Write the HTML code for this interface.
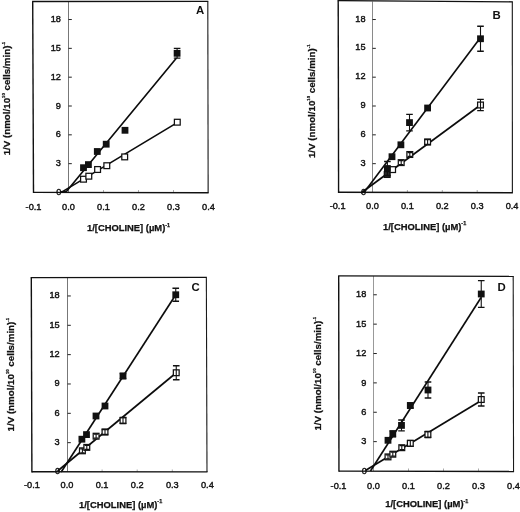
<!DOCTYPE html>
<html><head><meta charset="utf-8"><title>Lineweaver-Burk plots</title>
<style>html,body{margin:0;padding:0;background:#fff}svg{display:block;filter:blur(0.35px)}text{font-family:"Liberation Sans", sans-serif;fill:#111;stroke:#111;stroke-width:0.25px}.t{font-size:9.2px;stroke-width:0.4px}.b{font-size:9.4px;font-weight:bold}.s{font-size:5.4px;font-weight:bold}.b2{font-size:9.75px;font-weight:bold}.s2{font-size:4.2px;font-weight:bold}.p{font-size:11.4px;font-weight:bold;stroke:none}</style></head><body>
<svg width="520" height="512" viewBox="0 0 520 512">
<rect width="520" height="512" fill="#fff"/>
<g>
<line x1="68.5" y1="1.5" x2="68.5" y2="192.5" stroke="#777" stroke-width="1"/>
<line x1="68.5" y1="163.67" x2="71.8" y2="163.67" stroke="#222" stroke-width="1"/>
<text class="t" x="60.9" y="166.27" text-anchor="end">3</text>
<line x1="68.5" y1="134.84" x2="71.8" y2="134.84" stroke="#222" stroke-width="1"/>
<text class="t" x="60.9" y="137.44" text-anchor="end">6</text>
<line x1="68.5" y1="106.01" x2="71.8" y2="106.01" stroke="#222" stroke-width="1"/>
<text class="t" x="60.9" y="108.61" text-anchor="end">9</text>
<line x1="68.5" y1="77.18" x2="71.8" y2="77.18" stroke="#222" stroke-width="1"/>
<text class="t" x="60.9" y="79.78" text-anchor="end">12</text>
<line x1="68.5" y1="48.35" x2="71.8" y2="48.35" stroke="#222" stroke-width="1"/>
<text class="t" x="60.9" y="50.95" text-anchor="end">15</text>
<line x1="68.5" y1="19.52" x2="71.8" y2="19.52" stroke="#222" stroke-width="1"/>
<text class="t" x="60.9" y="22.12" text-anchor="end">18</text>
<text class="t" x="33.5" y="210" text-anchor="middle">-0.1</text>
<text class="t" x="68.5" y="210" text-anchor="middle">0.0</text>
<line x1="103.5" y1="192.5" x2="103.5" y2="190" stroke="#888" stroke-width="0.7"/>
<text class="t" x="103.5" y="210" text-anchor="middle">0.1</text>
<line x1="138.5" y1="192.5" x2="138.5" y2="190" stroke="#888" stroke-width="0.7"/>
<text class="t" x="138.5" y="210" text-anchor="middle">0.2</text>
<line x1="173.5" y1="192.5" x2="173.5" y2="190" stroke="#888" stroke-width="0.7"/>
<text class="t" x="173.5" y="210" text-anchor="middle">0.3</text>
<text class="t" x="208.5" y="210" text-anchor="middle">0.4</text>
<line x1="32.1" y1="1.5" x2="208.3" y2="1.4" stroke="#111" stroke-width="1.3"/>
<line x1="207.8" y1="1.4" x2="208.15" y2="192.7" stroke="#1a1a1a" stroke-width="1.1"/>
<line x1="32.7" y1="1.5" x2="33.5" y2="193.05" stroke="#111" stroke-width="1.4"/>
<line x1="33.5" y1="192.4" x2="208.65" y2="192.7" stroke="#111" stroke-width="1.4"/>
<text class="t" x="61.4" y="195.1" text-anchor="end">0</text>
<polyline points="60.5,192.3 62.5,191.6 176.8,122.9" fill="none" stroke="#0c0c0c" stroke-width="1.65" stroke-linejoin="round"/>
<polyline points="60.5,192.2 66.6,191.2 176.5,57.9" fill="none" stroke="#0c0c0c" stroke-width="1.65" stroke-linejoin="round"/>
<rect x="80.6" y="176.3" width="5.8" height="5.8" fill="#fff" stroke="#111" stroke-width="1.25"/>
<rect x="85.9" y="173.3" width="5.8" height="5.8" fill="#fff" stroke="#111" stroke-width="1.25"/>
<rect x="94.7" y="166.6" width="5.8" height="5.8" fill="#fff" stroke="#111" stroke-width="1.25"/>
<rect x="103.9" y="162.8" width="5.8" height="5.8" fill="#fff" stroke="#111" stroke-width="1.25"/>
<rect x="121.8" y="154" width="5.8" height="5.8" fill="#fff" stroke="#111" stroke-width="1.25"/>
<rect x="174.4" y="119.3" width="5.8" height="5.8" fill="#fff" stroke="#111" stroke-width="1.25"/>
<rect x="80.1" y="164.3" width="6.8" height="6.8" fill="#111"/>
<rect x="85" y="161.2" width="6.8" height="6.8" fill="#111"/>
<rect x="93.9" y="148.1" width="6.8" height="6.8" fill="#111"/>
<rect x="102.8" y="140.8" width="6.8" height="6.8" fill="#111"/>
<rect x="121.6" y="126.9" width="6.8" height="6.8" fill="#111"/>
<path d="M177.1 48.4V58.2" stroke="#111" stroke-width="1.1" fill="none"/><path d="M173.8 48.4H180.4M173.8 58.2H180.4" stroke="#111" stroke-width="1.3" fill="none"/>
<rect x="173.7" y="49.9" width="6.8" height="6.8" fill="#111"/>
<text class="p" x="200" y="13.5" text-anchor="middle">A</text>
<text class="b" x="128.5" y="231" text-anchor="middle">1/[CHOLINE] (µM)<tspan class="s" dy="-4.5">-1</tspan></text>
<text class="b2" transform="translate(10.1 98.6) rotate(-90)" text-anchor="middle">1/V (nmol/10<tspan class="s2" dy="-5">10</tspan><tspan dy="5"> cells/min)</tspan><tspan class="s2" dy="-5">-1</tspan></text>
</g>
<g>
<line x1="372.5" y1="1.5" x2="372.5" y2="192.5" stroke="#8a8a8a" stroke-width="1"/>
<line x1="372.5" y1="163.67" x2="375.8" y2="163.67" stroke="#222" stroke-width="1"/>
<text class="t" x="365.6" y="165.67" text-anchor="end">3</text>
<line x1="372.5" y1="134.84" x2="375.8" y2="134.84" stroke="#222" stroke-width="1"/>
<text class="t" x="365.6" y="136.84" text-anchor="end">6</text>
<line x1="372.5" y1="106.01" x2="375.8" y2="106.01" stroke="#222" stroke-width="1"/>
<text class="t" x="365.6" y="108.01" text-anchor="end">9</text>
<line x1="372.5" y1="77.18" x2="375.8" y2="77.18" stroke="#222" stroke-width="1"/>
<text class="t" x="365.6" y="79.18" text-anchor="end">12</text>
<line x1="372.5" y1="48.35" x2="375.8" y2="48.35" stroke="#222" stroke-width="1"/>
<text class="t" x="365.6" y="50.35" text-anchor="end">15</text>
<line x1="372.5" y1="19.52" x2="375.8" y2="19.52" stroke="#222" stroke-width="1"/>
<text class="t" x="365.6" y="21.52" text-anchor="end">18</text>
<text class="t" x="337.6" y="209.4" text-anchor="middle">-0.1</text>
<text class="t" x="372.5" y="209.4" text-anchor="middle">0.0</text>
<line x1="407.4" y1="192.5" x2="407.4" y2="190" stroke="#888" stroke-width="0.7"/>
<text class="t" x="407.4" y="209.4" text-anchor="middle">0.1</text>
<line x1="442.3" y1="192.5" x2="442.3" y2="190" stroke="#888" stroke-width="0.7"/>
<text class="t" x="442.3" y="209.4" text-anchor="middle">0.2</text>
<line x1="477.2" y1="192.5" x2="477.2" y2="190" stroke="#888" stroke-width="0.7"/>
<text class="t" x="477.2" y="209.4" text-anchor="middle">0.3</text>
<text class="t" x="512.1" y="209.4" text-anchor="middle">0.4</text>
<line x1="337.6" y1="0.6" x2="512.8" y2="1.8" stroke="#111" stroke-width="1.3"/>
<line x1="512.3" y1="1.8" x2="512.4" y2="192.8" stroke="#1a1a1a" stroke-width="1.1"/>
<line x1="338.2" y1="0.6" x2="338.6" y2="192.95" stroke="#111" stroke-width="1.4"/>
<line x1="338.6" y1="192.3" x2="512.9" y2="192.8" stroke="#111" stroke-width="1.4"/>
<text class="t" x="366.1" y="194.5" text-anchor="end">0</text>
<polyline points="361,193 480.5,105" fill="none" stroke="#0c0c0c" stroke-width="1.65" stroke-linejoin="round"/>
<polyline points="364,192.5 479.8,38.6" fill="none" stroke="#0c0c0c" stroke-width="1.65" stroke-linejoin="round"/>
<rect x="384.3" y="171.6" width="5.8" height="5.8" fill="#2a2a2a" stroke="#111" stroke-width="1.25"/>
<rect x="389.7" y="166.7" width="5.8" height="5.8" fill="#fff" stroke="#111" stroke-width="1.25"/>
<rect x="398.3" y="159.7" width="5.8" height="5.8" fill="#fff" stroke="#111" stroke-width="1.25"/>
<path d="M401.2 160.6V164.6" stroke="#111" stroke-width="1.1" fill="none"/><path d="M399 160.6H403.4M399 164.6H403.4" stroke="#111" stroke-width="1.3" fill="none"/>
<rect x="406.9" y="151.6" width="5.8" height="5.8" fill="#fff" stroke="#111" stroke-width="1.25"/>
<path d="M409.8 152.5V156.5" stroke="#111" stroke-width="1.1" fill="none"/><path d="M407.6 152.5H412M407.6 156.5H412" stroke="#111" stroke-width="1.3" fill="none"/>
<rect x="424.7" y="139.1" width="5.8" height="5.8" fill="#fff" stroke="#111" stroke-width="1.25"/>
<path d="M427.6 139.5V144.5" stroke="#111" stroke-width="1.1" fill="none"/><path d="M424.3 139.5H430.9M424.3 144.5H430.9" stroke="#111" stroke-width="1.3" fill="none"/>
<rect x="477.6" y="102.1" width="5.8" height="5.8" fill="#fff" stroke="#111" stroke-width="1.25"/>
<path d="M480.5 99.4V110.6" stroke="#111" stroke-width="1.1" fill="none"/><path d="M477.2 99.4H483.8M477.2 110.6H483.8" stroke="#111" stroke-width="1.3" fill="none"/>
<path d="M387.4 161.5V175.5" stroke="#111" stroke-width="1.1" fill="none"/><path d="M384.1 161.5H390.7M384.1 175.5H390.7" stroke="#111" stroke-width="1.3" fill="none"/>
<rect x="384" y="165.1" width="6.8" height="6.8" fill="#111"/>
<rect x="388.6" y="153.3" width="6.8" height="6.8" fill="#111"/>
<rect x="397.5" y="141.4" width="6.8" height="6.8" fill="#111"/>
<path d="M409.5 114.4V130.8" stroke="#111" stroke-width="1.1" fill="none"/><path d="M406.2 114.4H412.8M406.2 130.8H412.8" stroke="#111" stroke-width="1.3" fill="none"/>
<rect x="406.1" y="119.2" width="6.8" height="6.8" fill="#111"/>
<rect x="424.2" y="104.6" width="6.8" height="6.8" fill="#111"/>
<path d="M480.5 26.25V51.25" stroke="#111" stroke-width="1.1" fill="none"/><path d="M477.2 26.25H483.8M477.2 51.25H483.8" stroke="#111" stroke-width="1.3" fill="none"/>
<rect x="477.1" y="35.35" width="6.8" height="6.8" fill="#111"/>
<text class="p" x="496.5" y="19.4" text-anchor="middle">B</text>
<text class="b" x="424.6" y="229.8" text-anchor="middle">1/[CHOLINE] (µM)<tspan class="s" dy="-4.5">-1</tspan></text>
<text class="b2" transform="translate(314.8 101.3) rotate(-90)" text-anchor="middle">1/V (nmol/10<tspan class="s2" dy="-5">10</tspan><tspan dy="5"> cells/min)</tspan><tspan class="s2" dy="-5">-1</tspan></text>
</g>
<g>
<line x1="67.5" y1="277.6" x2="67.5" y2="472" stroke="#777" stroke-width="1"/>
<line x1="67.5" y1="442.66" x2="70.8" y2="442.66" stroke="#222" stroke-width="1"/>
<text class="t" x="59.7" y="444.86" text-anchor="end">3</text>
<line x1="67.5" y1="413.32" x2="70.8" y2="413.32" stroke="#222" stroke-width="1"/>
<text class="t" x="59.7" y="415.52" text-anchor="end">6</text>
<line x1="67.5" y1="383.98" x2="70.8" y2="383.98" stroke="#222" stroke-width="1"/>
<text class="t" x="59.7" y="386.18" text-anchor="end">9</text>
<line x1="67.5" y1="354.64" x2="70.8" y2="354.64" stroke="#222" stroke-width="1"/>
<text class="t" x="59.7" y="356.84" text-anchor="end">12</text>
<line x1="67.5" y1="325.3" x2="70.8" y2="325.3" stroke="#222" stroke-width="1"/>
<text class="t" x="59.7" y="327.5" text-anchor="end">15</text>
<line x1="67.5" y1="295.96" x2="70.8" y2="295.96" stroke="#222" stroke-width="1"/>
<text class="t" x="59.7" y="298.16" text-anchor="end">18</text>
<text class="t" x="31.9" y="488.4" text-anchor="middle">-0.1</text>
<text class="t" x="67" y="488.4" text-anchor="middle">0.0</text>
<line x1="102.1" y1="472" x2="102.1" y2="469.5" stroke="#888" stroke-width="0.7"/>
<text class="t" x="102.1" y="488.4" text-anchor="middle">0.1</text>
<line x1="137.2" y1="472" x2="137.2" y2="469.5" stroke="#888" stroke-width="0.7"/>
<text class="t" x="137.2" y="488.4" text-anchor="middle">0.2</text>
<line x1="172.3" y1="472" x2="172.3" y2="469.5" stroke="#888" stroke-width="0.7"/>
<text class="t" x="172.3" y="488.4" text-anchor="middle">0.3</text>
<text class="t" x="207.4" y="488.4" text-anchor="middle">0.4</text>
<line x1="30.7" y1="277.6" x2="206.85" y2="277.4" stroke="#111" stroke-width="1.3"/>
<line x1="206.35" y1="277.4" x2="207" y2="471.9" stroke="#1a1a1a" stroke-width="1.1"/>
<line x1="31.3" y1="277.6" x2="31.9" y2="472.45" stroke="#111" stroke-width="1.4"/>
<line x1="31.9" y1="471.8" x2="207.5" y2="471.9" stroke="#111" stroke-width="1.4"/>
<text class="t" x="60.2" y="474.2" text-anchor="end">0</text>
<polyline points="57.6,471 176.25,372.75" fill="none" stroke="#0c0c0c" stroke-width="1.65" stroke-linejoin="round"/>
<polyline points="61.2,472 175.75,294.75" fill="none" stroke="#0c0c0c" stroke-width="1.65" stroke-linejoin="round"/>
<rect x="79.5" y="447.9" width="5.8" height="5.8" fill="#fff" stroke="#111" stroke-width="1.25"/>
<path d="M82.4 448.8V452.8" stroke="#111" stroke-width="1.1" fill="none"/><path d="M80.2 448.8H84.6M80.2 452.8H84.6" stroke="#111" stroke-width="1.3" fill="none"/>
<rect x="83.9" y="444.5" width="5.8" height="5.8" fill="#fff" stroke="#111" stroke-width="1.25"/>
<path d="M86.8 445.4V449.4" stroke="#111" stroke-width="1.1" fill="none"/><path d="M84.6 445.4H89M84.6 449.4H89" stroke="#111" stroke-width="1.3" fill="none"/>
<rect x="93.2" y="433.3" width="5.8" height="5.8" fill="#fff" stroke="#111" stroke-width="1.25"/>
<path d="M96.1 434.2V438.2" stroke="#111" stroke-width="1.1" fill="none"/><path d="M93.9 434.2H98.3M93.9 438.2H98.3" stroke="#111" stroke-width="1.3" fill="none"/>
<rect x="102.1" y="429.1" width="5.8" height="5.8" fill="#fff" stroke="#111" stroke-width="1.25"/>
<path d="M105 429.5V434.5" stroke="#111" stroke-width="1.1" fill="none"/><path d="M101.7 429.5H108.3M101.7 434.5H108.3" stroke="#111" stroke-width="1.3" fill="none"/>
<rect x="120.1" y="417.6" width="5.8" height="5.8" fill="#fff" stroke="#111" stroke-width="1.25"/>
<path d="M123 417.5V423.5" stroke="#111" stroke-width="1.1" fill="none"/><path d="M119.7 417.5H126.3M119.7 423.5H126.3" stroke="#111" stroke-width="1.3" fill="none"/>
<rect x="173.35" y="369.85" width="5.8" height="5.8" fill="#fff" stroke="#111" stroke-width="1.25"/>
<path d="M176.25 365.75V379.75" stroke="#111" stroke-width="1.1" fill="none"/><path d="M172.95 365.75H179.55M172.95 379.75H179.55" stroke="#111" stroke-width="1.3" fill="none"/>
<rect x="78.5" y="435.8" width="6.8" height="6.8" fill="#111"/>
<rect x="83.1" y="431.2" width="6.8" height="6.8" fill="#111"/>
<rect x="92.6" y="412.6" width="6.8" height="6.8" fill="#111"/>
<path d="M105 404V408" stroke="#111" stroke-width="1.1" fill="none"/><path d="M102.8 404H107.2M102.8 408H107.2" stroke="#111" stroke-width="1.3" fill="none"/>
<rect x="101.6" y="402.6" width="6.8" height="6.8" fill="#111"/>
<path d="M123 373.5V378.5" stroke="#111" stroke-width="1.1" fill="none"/><path d="M119.7 373.5H126.3M119.7 378.5H126.3" stroke="#111" stroke-width="1.3" fill="none"/>
<rect x="119.6" y="372.6" width="6.8" height="6.8" fill="#111"/>
<path d="M175.75 288.25V301.25" stroke="#111" stroke-width="1.1" fill="none"/><path d="M172.45 288.25H179.05M172.45 301.25H179.05" stroke="#111" stroke-width="1.3" fill="none"/>
<rect x="172.35" y="291.35" width="6.8" height="6.8" fill="#111"/>
<text class="p" x="195.5" y="291" text-anchor="middle">C</text>
<text class="b" x="120.6" y="507.8" text-anchor="middle">1/[CHOLINE] (µM)<tspan class="s" dy="-4.5">-1</tspan></text>
<text class="b2" transform="translate(13.8 374.7) rotate(-90)" text-anchor="middle">1/V (nmol/10<tspan class="s2" dy="-5">10</tspan><tspan dy="5"> cells/min)</tspan><tspan class="s2" dy="-5">-1</tspan></text>
</g>
<g>
<line x1="373.5" y1="276" x2="373.5" y2="471" stroke="#999" stroke-width="1"/>
<line x1="373.5" y1="441.63" x2="376.8" y2="441.63" stroke="#222" stroke-width="1"/>
<text class="t" x="366.3" y="444.33" text-anchor="end">3</text>
<line x1="373.5" y1="412.26" x2="376.8" y2="412.26" stroke="#222" stroke-width="1"/>
<text class="t" x="366.3" y="414.96" text-anchor="end">6</text>
<line x1="373.5" y1="382.89" x2="376.8" y2="382.89" stroke="#222" stroke-width="1"/>
<text class="t" x="366.3" y="385.59" text-anchor="end">9</text>
<line x1="373.5" y1="353.52" x2="376.8" y2="353.52" stroke="#222" stroke-width="1"/>
<text class="t" x="366.3" y="356.22" text-anchor="end">12</text>
<line x1="373.5" y1="324.15" x2="376.8" y2="324.15" stroke="#222" stroke-width="1"/>
<text class="t" x="366.3" y="326.85" text-anchor="end">15</text>
<line x1="373.5" y1="294.78" x2="376.8" y2="294.78" stroke="#222" stroke-width="1"/>
<text class="t" x="366.3" y="297.48" text-anchor="end">18</text>
<text class="t" x="338.5" y="488.8" text-anchor="middle">-0.1</text>
<text class="t" x="373.5" y="488.8" text-anchor="middle">0.0</text>
<line x1="408.5" y1="471" x2="408.5" y2="468.5" stroke="#888" stroke-width="0.7"/>
<text class="t" x="408.5" y="488.8" text-anchor="middle">0.1</text>
<line x1="443.5" y1="471" x2="443.5" y2="468.5" stroke="#888" stroke-width="0.7"/>
<text class="t" x="443.5" y="488.8" text-anchor="middle">0.2</text>
<line x1="478.5" y1="471" x2="478.5" y2="468.5" stroke="#888" stroke-width="0.7"/>
<text class="t" x="478.5" y="488.8" text-anchor="middle">0.3</text>
<text class="t" x="513.5" y="488.8" text-anchor="middle">0.4</text>
<line x1="338.1" y1="275.9" x2="513.7" y2="276.3" stroke="#111" stroke-width="1.3"/>
<line x1="513.2" y1="276.3" x2="513.55" y2="471.45" stroke="#1a1a1a" stroke-width="1.1"/>
<line x1="338.7" y1="275.9" x2="338.95" y2="471.75" stroke="#111" stroke-width="1.4"/>
<line x1="338.95" y1="471.1" x2="514.05" y2="471.45" stroke="#111" stroke-width="1.4"/>
<text class="t" x="366.8" y="473.7" text-anchor="end">0</text>
<polyline points="365.4,470.5 480.5,401" fill="none" stroke="#0c0c0c" stroke-width="1.65" stroke-linejoin="round"/>
<polyline points="370.5,471 481.1,297.5" fill="none" stroke="#0c0c0c" stroke-width="1.65" stroke-linejoin="round"/>
<rect x="385.1" y="454" width="5.8" height="5.8" fill="#fff" stroke="#111" stroke-width="1.25"/>
<path d="M388 454.9V458.9" stroke="#111" stroke-width="1.1" fill="none"/><path d="M385.8 454.9H390.2M385.8 458.9H390.2" stroke="#111" stroke-width="1.3" fill="none"/>
<rect x="389.9" y="451.3" width="5.8" height="5.8" fill="#fff" stroke="#111" stroke-width="1.25"/>
<path d="M392.8 452.2V456.2" stroke="#111" stroke-width="1.1" fill="none"/><path d="M390.6 452.2H395M390.6 456.2H395" stroke="#111" stroke-width="1.3" fill="none"/>
<rect x="398.9" y="444.8" width="5.8" height="5.8" fill="#fff" stroke="#111" stroke-width="1.25"/>
<path d="M401.8 445.7V449.7" stroke="#111" stroke-width="1.1" fill="none"/><path d="M399.6 445.7H404M399.6 449.7H404" stroke="#111" stroke-width="1.3" fill="none"/>
<rect x="407.4" y="440.5" width="5.8" height="5.8" fill="#fff" stroke="#111" stroke-width="1.25"/>
<path d="M410.3 440.4V446.4" stroke="#111" stroke-width="1.1" fill="none"/><path d="M407 440.4H413.6M407 446.4H413.6" stroke="#111" stroke-width="1.3" fill="none"/>
<rect x="425" y="431.6" width="5.8" height="5.8" fill="#fff" stroke="#111" stroke-width="1.25"/>
<path d="M427.9 431.5V437.5" stroke="#111" stroke-width="1.1" fill="none"/><path d="M424.6 431.5H431.2M424.6 437.5H431.2" stroke="#111" stroke-width="1.3" fill="none"/>
<rect x="478.35" y="396.6" width="5.8" height="5.8" fill="#fff" stroke="#111" stroke-width="1.25"/>
<path d="M481.25 393V406" stroke="#111" stroke-width="1.1" fill="none"/><path d="M477.95 393H484.55M477.95 406H484.55" stroke="#111" stroke-width="1.3" fill="none"/>
<rect x="384.6" y="436.9" width="6.8" height="6.8" fill="#111"/>
<path d="M392.8 430.8V436.8" stroke="#111" stroke-width="1.1" fill="none"/><path d="M389.5 430.8H396.1M389.5 436.8H396.1" stroke="#111" stroke-width="1.3" fill="none"/>
<rect x="389.4" y="430.4" width="6.8" height="6.8" fill="#111"/>
<path d="M401.5 420V430.8" stroke="#111" stroke-width="1.1" fill="none"/><path d="M398.2 420H404.8M398.2 430.8H404.8" stroke="#111" stroke-width="1.3" fill="none"/>
<rect x="398.1" y="422" width="6.8" height="6.8" fill="#111"/>
<path d="M410.3 403V408" stroke="#111" stroke-width="1.1" fill="none"/><path d="M407 403H413.6M407 408H413.6" stroke="#111" stroke-width="1.3" fill="none"/>
<rect x="406.9" y="402.1" width="6.8" height="6.8" fill="#111"/>
<path d="M428 382V398" stroke="#111" stroke-width="1.1" fill="none"/><path d="M424.7 382H431.3M424.7 398H431.3" stroke="#111" stroke-width="1.3" fill="none"/>
<rect x="424.6" y="386.6" width="6.8" height="6.8" fill="#111"/>
<path d="M481.25 280.6V307.4" stroke="#111" stroke-width="1.1" fill="none"/><path d="M477.95 280.6H484.55M477.95 307.4H484.55" stroke="#111" stroke-width="1.3" fill="none"/>
<rect x="477.85" y="290.6" width="6.8" height="6.8" fill="#111"/>
<text class="p" x="501.5" y="291" text-anchor="middle">D</text>
<text class="b" x="426.8" y="507.2" text-anchor="middle">1/[CHOLINE] (µM)<tspan class="s" dy="-4.5">-1</tspan></text>
<text class="b2" transform="translate(320.9 373.8) rotate(-90)" text-anchor="middle">1/V (nmol/10<tspan class="s2" dy="-5">10</tspan><tspan dy="5"> cells/min)</tspan><tspan class="s2" dy="-5">-1</tspan></text>
</g>
</svg></body></html>
